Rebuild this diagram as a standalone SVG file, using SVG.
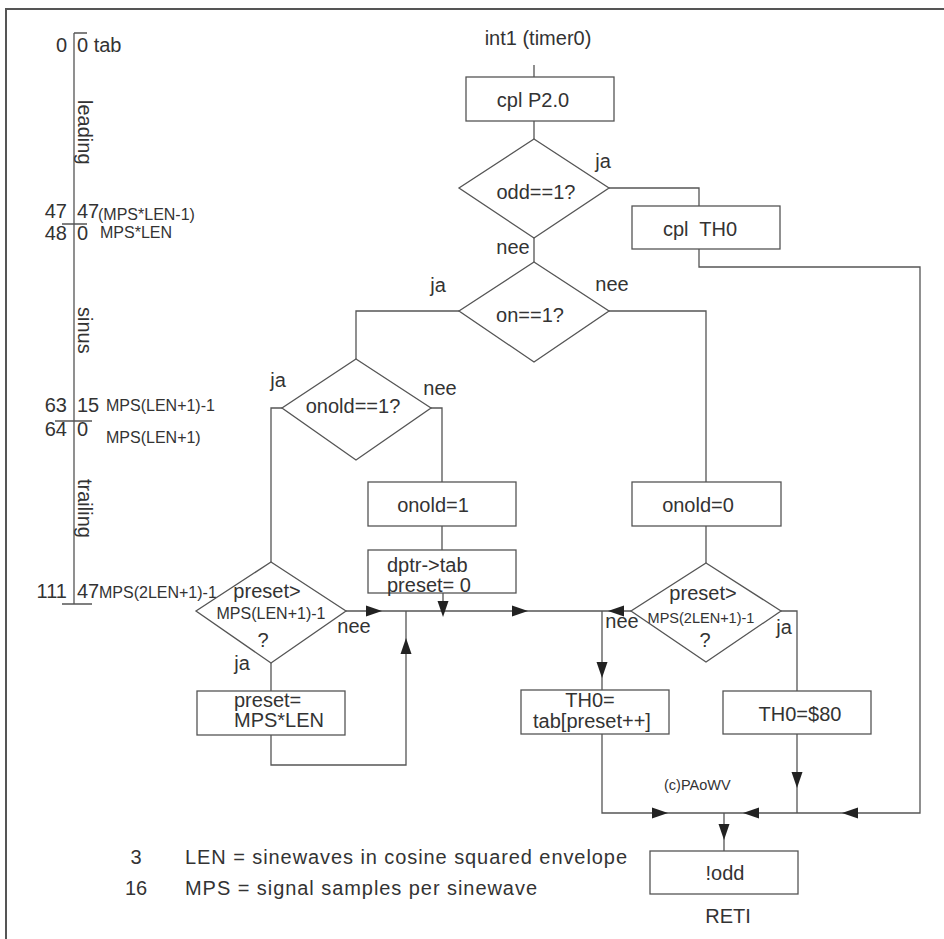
<svg xmlns="http://www.w3.org/2000/svg" width="944" height="939" viewBox="0 0 944 939">
<style>
.ln{fill:none;stroke:#555;stroke-width:1.3}
.bx{fill:#fff;stroke:#555;stroke-width:1.3}
text{font-family:"Liberation Sans",Arial,sans-serif;font-size:20px;fill:#333}
.s{font-size:16px}
.xs{font-size:14.5px}
.m{text-anchor:middle}
.e{text-anchor:end}
.ah{fill:#222}
</style>
<defs>
<path id="ah" d="M0,0 L-16,-5.5 L-16,5.5 Z"/>
</defs>
<rect width="944" height="939" fill="#fff"/>
<path d="M6,939 V9 H944" fill="none" stroke="#555" stroke-width="2"/>

<g id="scale">
<path class="ln" d="M74,33 V604 M74,33 H87 M62,224 H87 M55,421 H92 M62,604 H92"/>
<text class="e" x="67" y="52">0</text>
<text x="77" y="52">0 tab</text>
<text transform="translate(78,100) rotate(90)">leading</text>
<text class="e" x="67" y="218">47</text>
<text x="77" y="218">47</text>
<text class="s" x="98" y="220">(MPS*LEN-1)</text>
<text class="e" x="67" y="240">48</text>
<text x="77" y="240">0</text>
<text class="s" x="100" y="238">MPS*LEN</text>
<text transform="translate(78,307) rotate(90)">sinus</text>
<text class="e" x="67" y="412">63</text>
<text x="77" y="412">15</text>
<text class="s" x="106" y="411">MPS(LEN+1)-1</text>
<text class="e" x="67" y="436">64</text>
<text x="77" y="436">0</text>
<text class="s" x="106" y="443">MPS(LEN+1)</text>
<text transform="translate(78,479) rotate(90)">trailing</text>
<text class="e" x="67" y="598">111</text>
<text x="77" y="598">47</text>
<text class="s" x="99" y="598">MPS(2LEN+1)-1</text>
</g>

<g id="connectors">
<path class="ln" d="M534,65 V77 M534,121 V139 M609,188 H699 V206 M699,249 V267 H920 V813 H602 V734 M534,238 V262 M459,311 H356 V359 M609,311 H706 V482 M706,526 V563 M282,408 H271 V562 M431,408 H442 V482 M442,526 V550 M443,593 V603 M346,611 H631 M602,611 V690 M271,663 V691 M271,735 V765 H406 V611 M781,611 H797 V691 M797,734 V813 M724,813 V851"/>
<use href="#ah" class="ah" transform="translate(382,611)"/>
<use href="#ah" class="ah" transform="translate(443,617) rotate(90)"/>
<use href="#ah" class="ah" transform="translate(528,611)"/>
<use href="#ah" class="ah" transform="translate(608,611) rotate(180)"/>
<use href="#ah" class="ah" transform="translate(602,678) rotate(90)"/>
<use href="#ah" class="ah" transform="translate(406,638) rotate(-90)"/>
<use href="#ah" class="ah" transform="translate(668,813)"/>
<use href="#ah" class="ah" transform="translate(743,813) rotate(180)"/>
<use href="#ah" class="ah" transform="translate(842,813) rotate(180)"/>
<use href="#ah" class="ah" transform="translate(724,840) rotate(90)"/>
<use href="#ah" class="ah" transform="translate(797,788) rotate(90)"/>
<text x="603" y="168" class="m">ja</text>
<text x="513" y="254" class="m">nee</text>
<text x="438" y="292" class="m">ja</text>
<text x="612" y="291" class="m">nee</text>
<text x="278" y="387" class="m">ja</text>
<text x="440" y="395" class="m">nee</text>
<text x="354" y="633" class="m">nee</text>
<text x="242" y="670" class="m">ja</text>
<text x="622" y="628" class="m">nee</text>
<text x="784" y="634" class="m">ja</text>
</g>

<g id="start"><text x="538" y="45" class="m">int1 (timer0)</text></g>
<g id="cplP20"><rect class="bx" x="466" y="77" width="148" height="44"/><text x="533" y="107" class="m">cpl P2.0</text></g>
<g id="odd"><polygon class="bx" points="534,139 609,188 534,238 459,188"/><text x="536" y="199" class="m">odd==1?</text></g>
<g id="cplTH0"><rect class="bx" x="632" y="206" width="148" height="43"/><text x="700" y="236" class="m" xml:space="preserve">cpl  TH0</text></g>
<g id="on"><polygon class="bx" points="534,262 609,311 534,362 459,311"/><text x="530" y="322" class="m">on==1?</text></g>
<g id="onold"><polygon class="bx" points="356,359 431,408 356,460 282,408"/><text x="353" y="413" class="m">onold==1?</text></g>
<g id="onold1"><rect class="bx" x="368" y="482" width="148" height="44"/><text x="433" y="512" class="m">onold=1</text></g>
<g id="dptr"><rect class="bx" x="368" y="550" width="148" height="43"/><text x="387" y="572">dptr-&gt;tab</text><text x="387" y="592">preset= 0</text></g>
<g id="onold0"><rect class="bx" x="632" y="482" width="149" height="44"/><text x="698" y="512" class="m">onold=0</text></g>
<g id="presetL"><polygon class="bx" points="271,562 346,611 271,663 196,611"/><text x="267" y="598" class="m">preset&gt;</text><text x="271" y="619" class="m s">MPS(LEN+1)-1</text><text x="263" y="647" class="m">?</text></g>
<g id="presetMPS"><rect class="bx" x="197" y="691" width="148" height="44"/><text x="234" y="707">preset=</text><text x="234" y="727">MPS*LEN</text></g>
<g id="presetR"><polygon class="bx" points="706,563 781,611 706,662 631,611"/><text x="703" y="600" class="m">preset&gt;</text><text x="701" y="623" class="m xs">MPS(2LEN+1)-1</text><text x="705" y="647" class="m">?</text></g>
<g id="th0tab"><rect class="bx" x="521" y="690" width="148" height="44"/><text x="590" y="707" class="m">TH0=</text><text x="592" y="728" class="m">tab[preset++]</text></g>
<g id="th080"><rect class="bx" x="723" y="691" width="148" height="43"/><text x="800" y="721" class="m">TH0=$80</text></g>
<g id="notodd"><rect class="bx" x="650" y="851" width="148" height="43"/><text x="725" y="880" class="m">!odd</text></g>
<g id="reti"><text x="728" y="923" class="m">RETI</text></g>
<g id="copyright"><text x="664" y="790" class="xs">(c)PAoWV</text></g>
<g id="legend">
<text x="136" y="864" class="m">3</text>
<text x="185" y="864" textLength="442" lengthAdjust="spacing">LEN = sinewaves in cosine squared envelope</text>
<text x="136" y="895" class="m">16</text>
<text x="185" y="895" textLength="352" lengthAdjust="spacing">MPS = signal samples per sinewave</text>
</g>
</svg>
